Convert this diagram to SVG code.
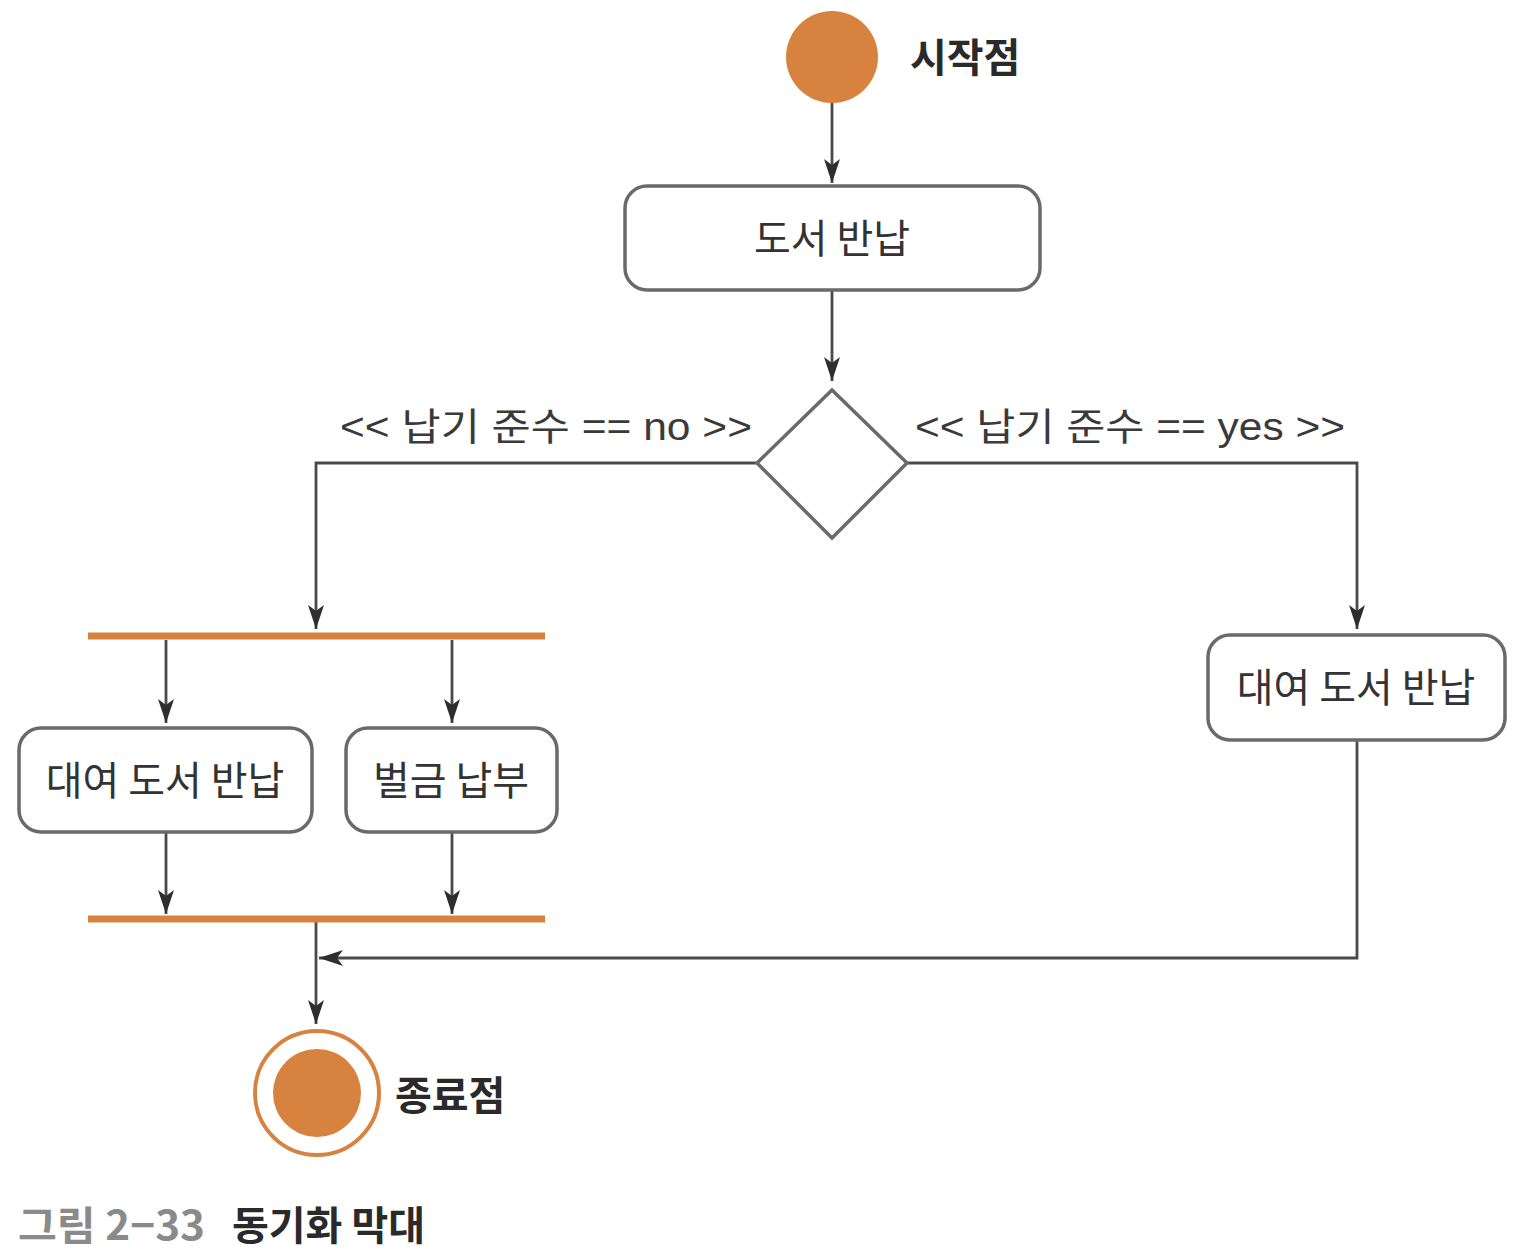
<svg xmlns="http://www.w3.org/2000/svg" width="1514" height="1260" viewBox="0 0 1514 1260">
<defs>
<marker id="arr" viewBox="0 0 24 16" refX="24" refY="8" markerWidth="24" markerHeight="16" markerUnits="userSpaceOnUse" orient="auto">
<path d="M0,0 L24,8 L0,16 L6,8 Z" fill="#2e2e2e"/>
</marker>
<style>
.box{fill:#fff;stroke:#6a6a6a;stroke-width:3.5}
.t{font-family:"Noto Sans CJK KR","Noto Sans",sans-serif;font-size:40px;fill:#333;text-anchor:middle}
.lbl{font-family:"Liberation Sans","Noto Sans CJK KR",sans-serif;font-size:38px;fill:#3a3a3a}
.bold{font-family:"Noto Sans CJK KR","Noto Sans",sans-serif;font-size:40px;font-weight:bold;fill:#2a2a2a}
.ln{fill:none;stroke:#4a4a4a;stroke-width:2.8}
.bar{stroke:#D8823F;stroke-width:7}
</style>
</defs>
<rect width="1514" height="1260" fill="#fff"/>
<g id="connectors">
<line class="ln" x1="832" y1="103" x2="832" y2="183" marker-end="url(#arr)"/>
<line class="ln" x1="832" y1="290" x2="832" y2="381" marker-end="url(#arr)"/>
<polyline class="ln" points="757,463 316,463 316,629" marker-end="url(#arr)"/>
<polyline class="ln" points="907,463 1357,463 1357,629" marker-end="url(#arr)"/>
<line class="ln" x1="166" y1="640" x2="166" y2="723" marker-end="url(#arr)"/>
<line class="ln" x1="452" y1="640" x2="452" y2="723" marker-end="url(#arr)"/>
<line class="ln" x1="166" y1="832" x2="166" y2="914" marker-end="url(#arr)"/>
<line class="ln" x1="452" y1="832" x2="452" y2="914" marker-end="url(#arr)"/>
<polyline class="ln" points="1357,740 1357,958 319,958" marker-end="url(#arr)"/>
<line class="ln" x1="316" y1="922" x2="316" y2="1024" marker-end="url(#arr)"/>
<text class="lbl" x="340" y="440" textLength="412" lengthAdjust="spacingAndGlyphs">&lt;&lt; 납기 준수 == no &gt;&gt;</text>
<text class="lbl" x="915" y="440" textLength="430" lengthAdjust="spacingAndGlyphs">&lt;&lt; 납기 준수 == yes &gt;&gt;</text>
</g>
<g id="start">
<circle cx="832" cy="57" r="46" fill="#D8823F"/>
<text class="bold" x="910" y="72">시작점</text>
</g>
<g id="return">
<rect class="box" x="625" y="186" width="415" height="104" rx="22"/>
<text class="t" x="832" y="253">도서 반납</text>
</g>
<g id="decision">
<polygon points="832,390 907,463 832,538 757,463" fill="#fff" stroke="#6a6a6a" stroke-width="3.5"/>
</g>
<g id="fork"><line class="bar" x1="88" y1="636" x2="545" y2="636"/></g>
<g id="rent-left">
<rect class="box" x="19" y="728" width="293" height="104" rx="22"/>
<text class="t" x="165" y="795">대여 도서 반납</text>
</g>
<g id="fine">
<rect class="box" x="346" y="728" width="211" height="104" rx="22"/>
<text class="t" x="451" y="795">벌금 납부</text>
</g>
<g id="join"><line class="bar" x1="88" y1="919" x2="545" y2="919"/></g>
<g id="rent-right">
<rect class="box" x="1208" y="635" width="297" height="105" rx="22"/>
<text class="t" x="1356" y="702">대여 도서 반납</text>
</g>
<g id="end">
<circle cx="317" cy="1093" r="62" fill="#fff" stroke="#D8823F" stroke-width="4"/>
<circle cx="317" cy="1093" r="44" fill="#D8823F"/>
<text class="bold" x="395" y="1110">종료점</text>
</g>
<g id="caption">
<text class="bold" x="18" y="1240" style="fill:#8a8a8a" textLength="187" lengthAdjust="spacingAndGlyphs">그림 2−33</text>
<text class="bold" x="232" y="1240">동기화 막대</text>
</g>
</svg>
